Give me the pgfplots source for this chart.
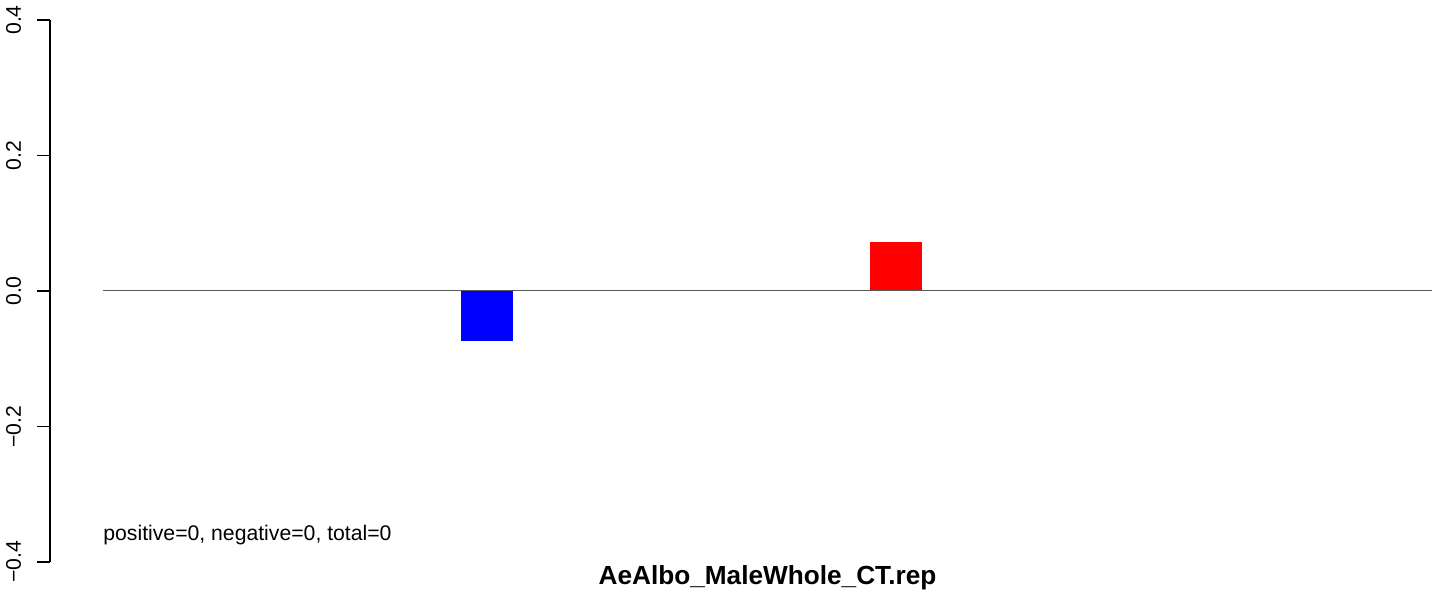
\documentclass[border=0pt]{standalone}
\usepackage{pgfplots}
\pgfplotsset{compat=1.18}
\usepackage{fontspec}
\setmainfont{Liberation Sans}
\begin{document}
\begin{tikzpicture}[x=0.5pt,y=0.5pt]
\begin{axis}[
  scale only axis,
  width=691pt, height=271pt,
  xmin=50, xmax=1432,
  ymin=-0.4, ymax=0.4,
  axis x line=none,
  axis y line*=left,
  y axis line style={line width=0.6pt,-},
  ytick={-0.4,-0.2,0,0.2,0.4},
  yticklabels={−0.4,−0.2,0.0,0.2,0.4},
  tick align=outside,
  major tick length=6.5pt,
  tick style={line width=0.6pt,black},
  yticklabel style={rotate=90,anchor=base,inner sep=0pt,yshift=8pt,font=\fontsize{10.6}{12}\selectfont},
  clip=false,
  ybar, bar width=26pt, bar shift=0pt,
]
\addplot[draw=none,fill=blue] coordinates {(487,-0.0735)};
\addplot[draw=none,fill=red] coordinates {(896,0.072)};
\addplot[sharp plot,no marks,draw=black!65,line width=0.5pt] coordinates {(103,0) (1432,0)};
\node[anchor=base west,inner sep=0pt,font=\fontsize{10.6}{12}\selectfont] at (axis cs:103,-0.3690) {positive=0, negative=0, total=0};
\node[anchor=base,inner sep=0pt,font=\fontsize{13.1}{15}\selectfont\bfseries] at (axis cs:767.5,-0.4339) {AeAlbo\_MaleWhole\_CT.rep};
\coordinate (tl) at (axis cs:0,0.42952);
\coordinate (br) at (axis cs:1444,-0.44576);
\end{axis}
\useasboundingbox (tl) rectangle (br);
\end{tikzpicture}
\end{document}
